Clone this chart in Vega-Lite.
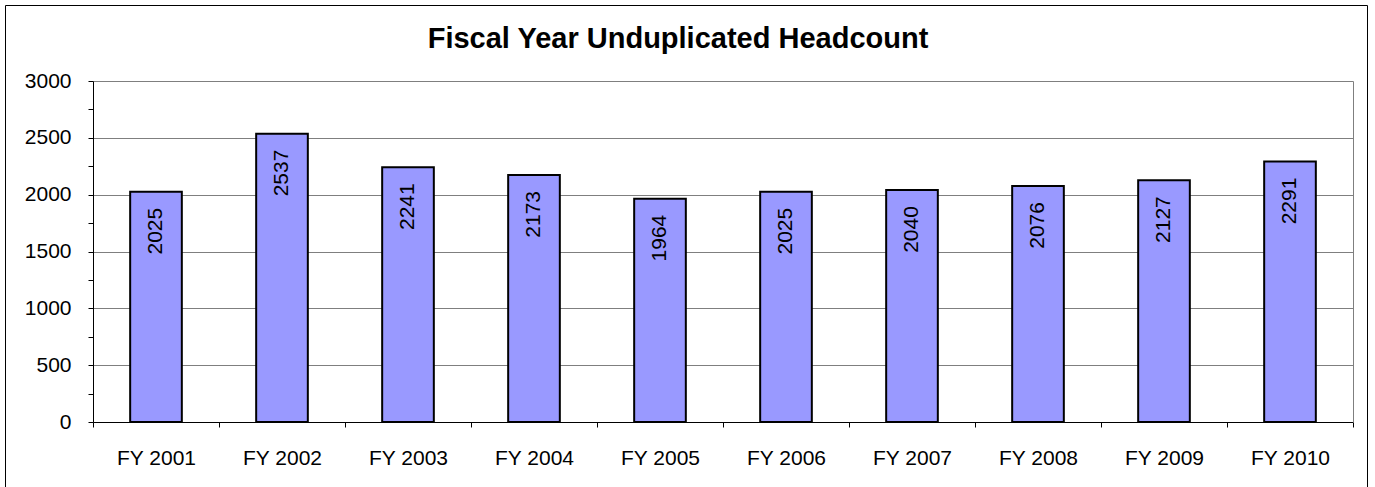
{
  "$schema": "https://vega.github.io/schema/vega-lite/v6.json",
  "autosize": "none",
  "padding": {"left": 5, "top": 5, "right": 8, "bottom": 0},
  "width": 1362,
  "height": 483,
  "background": "#ffffff",
  "config": {
    "view": {"stroke": "#000000", "strokeWidth": 1},
    "font": "Liberation Sans"
  },
  "title": {
    "text": "Fiscal Year Unduplicated Headcount",
    "orient": "top",
    "anchor": "middle",
    "frame": "group",
    "baseline": "alphabetic",
    "offset": -72,
    "dx": -8,
    "font": "Liberation Sans",
    "fontSize": 29,
    "fontWeight": "bold",
    "color": "#000000"
  },
  "data": {
    "values": [
      {"year": "FY 2001", "count": 2025},
      {"year": "FY 2002", "count": 2537},
      {"year": "FY 2003", "count": 2241},
      {"year": "FY 2004", "count": 2173},
      {"year": "FY 2005", "count": 1964},
      {"year": "FY 2006", "count": 2025},
      {"year": "FY 2007", "count": 2040},
      {"year": "FY 2008", "count": 2076},
      {"year": "FY 2009", "count": 2127},
      {"year": "FY 2010", "count": 2291}
    ]
  },
  "encoding": {
    "x": {
      "field": "year",
      "type": "nominal",
      "sort": null,
      "scale": {"range": [88, 1348], "paddingInner": 0, "paddingOuter": 0},
      "axis": {
        "title": null,
        "orient": "bottom",
        "offset": -66,
        "labelAngle": 0,
        "labelFont": "Liberation Sans",
        "labelFontSize": 21,
        "labelColor": "#000000",
        "labelPadding": 20,
        "tickBand": "extent",
        "tickSize": 5,
        "tickColor": "#000000",
        "domainColor": "#000000",
        "domainWidth": 1,
        "grid": false
      }
    },
    "y": {
      "field": "count",
      "type": "quantitative",
      "scale": {"domain": [0, 3000], "range": [417, 76], "nice": false, "zero": true}
    }
  },
  "layer": [
    {
      "mark": {"type": "bar", "width": {"band": 0.41}, "fill": "#9999FF", "stroke": "#000000", "strokeWidth": 2},
      "encoding": {
        "y": {
          "field": "count",
          "type": "quantitative",
          "axis": {
            "title": null,
            "orient": "left",
            "offset": -88,
            "values": [0, 250, 500, 750, 1000, 1250, 1500, 1750, 2000, 2250, 2500, 2750, 3000],
            "labelExpr": "datum.value % 500 === 0 ? datum.label : ''",
            "format": "d",
            "labelFont": "Liberation Sans",
            "labelFontSize": 21,
            "labelColor": "#000000",
            "labelPadding": 17,
            "tickSize": 5,
            "tickColor": "#000000",
            "domainColor": "#000000",
            "grid": true,
            "gridColor": "#7f7f7f",
            "gridOpacity": {"condition": {"test": "datum.value % 500 === 0 && datum.value > 0", "value": 1}, "value": 0}
          }
        }
      }
    },
    {
      "mark": {"type": "text", "angle": 270, "align": "right", "baseline": "middle", "dx": -16, "font": "Liberation Sans", "fontSize": 21, "color": "#000000"},
      "encoding": {
        "y": {
          "field": "count",
          "type": "quantitative",
          "axis": {
            "title": null,
            "orient": "right",
            "offset": -14,
            "labels": false,
            "ticks": false,
            "grid": false,
            "domain": true,
            "domainColor": "#7f7f7f"
          }
        },
        "text": {"field": "count", "type": "quantitative", "format": "d"}
      }
    }
  ],
  "resolve": {"axis": {"y": "independent"}}
}
